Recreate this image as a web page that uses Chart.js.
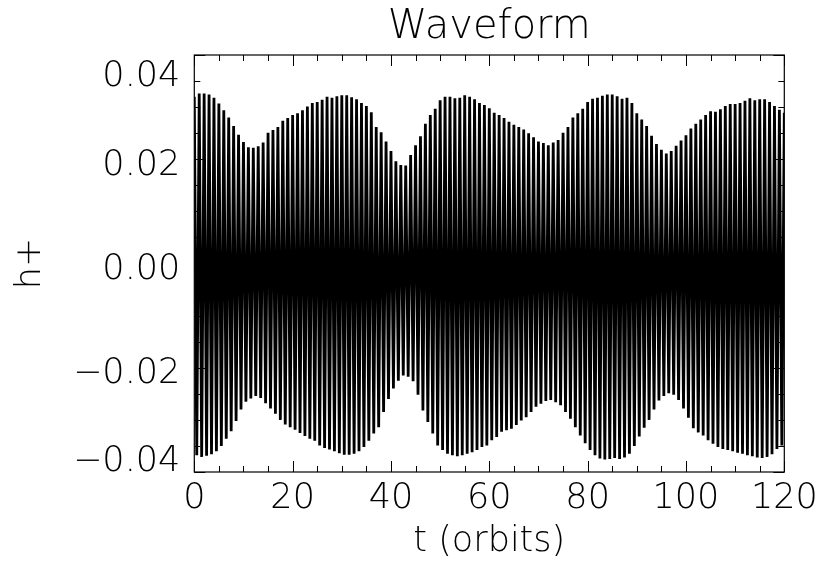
<!DOCTYPE html>
<html>
<head>
<meta charset="utf-8">
<script src="https://cdn.jsdelivr.net/npm/chart.js@4.4.1/dist/chart.umd.min.js"></script>
<style>
  html, body { margin: 0; padding: 0; background: #fff; }
  #wrap { width: 827px; height: 572px; }
</style>
</head>
<body>
<div id="wrap"><canvas id="chart"></canvas></div>
<script>
// samples of the waveform envelope, one per orbit
const orbits = [
  0, 1, 2, 3, 4, 5, 6, 7, 8, 9, 10, 11, 12, 13, 14, 15, 16, 17, 18, 19,
  20, 21, 22, 23, 24, 25, 26, 27, 28, 29, 30, 31, 32, 33, 34, 35, 36, 37, 38, 39,
  40, 41, 42, 43, 44, 45, 46, 47, 48, 49, 50, 51, 52, 53, 54, 55, 56, 57, 58, 59,
  60, 61, 62, 63, 64, 65, 66, 67, 68, 69, 70, 71, 72, 73, 74, 75, 76, 77, 78, 79,
  80, 81, 82, 83, 84, 85, 86, 87, 88, 89, 90, 91, 92, 93, 94, 95, 96, 97, 98, 99,
  100, 101, 102, 103, 104, 105, 106, 107, 108, 109, 110, 111, 112, 113, 114, 115, 116, 117, 118, 119,
  120
];
// crest of each cycle
const crests = [
  0.0320, 0.0326, 0.0326, 0.0324, 0.0318, 0.0307, 0.0294, 0.0280, 0.0264, 0.0247,
  0.0233, 0.0223, 0.0222, 0.0225, 0.0232, 0.0251, 0.0256, 0.0262, 0.0274, 0.0279,
  0.0285, 0.0288, 0.0294, 0.0301, 0.0308, 0.0310, 0.0314, 0.0320, 0.0318, 0.0321,
  0.0323, 0.0323, 0.0319, 0.0315, 0.0308, 0.0302, 0.0290, 0.0262, 0.0252, 0.0234,
  0.0216, 0.0196, 0.0189, 0.0188, 0.0208, 0.0227, 0.0244, 0.0268, 0.0285, 0.0297,
  0.0313, 0.0320, 0.0320, 0.0317, 0.0318, 0.0323, 0.0320, 0.0315, 0.0308, 0.0304,
  0.0298, 0.0289, 0.0285, 0.0279, 0.0272, 0.0266, 0.0262, 0.0257, 0.0250, 0.0242,
  0.0234, 0.0231, 0.0227, 0.0232, 0.0237, 0.0251, 0.0262, 0.0280, 0.0288, 0.0297,
  0.0310, 0.0316, 0.0318, 0.0322, 0.0324, 0.0324, 0.0321, 0.0316, 0.0318, 0.0308,
  0.0288, 0.0276, 0.0264, 0.0245, 0.0229, 0.0218, 0.0211, 0.0216, 0.0226, 0.0236,
  0.0246, 0.0259, 0.0268, 0.0276, 0.0285, 0.0292, 0.0291, 0.0296, 0.0302, 0.0306,
  0.0306, 0.0308, 0.0312, 0.0317, 0.0313, 0.0315, 0.0315, 0.0310, 0.0302, 0.0295,
  0.0289
];
// trough of each cycle
const troughs = [
  -0.0368, -0.0371, -0.0369, -0.0366, -0.0360, -0.0350, -0.0336, -0.0322, -0.0302, -0.0280,
  -0.0265, -0.0259, -0.0254, -0.0258, -0.0268, -0.0278, -0.0288, -0.0300, -0.0309, -0.0314,
  -0.0319, -0.0325, -0.0331, -0.0336, -0.0340, -0.0349, -0.0354, -0.0357, -0.0360, -0.0364,
  -0.0367, -0.0367, -0.0365, -0.0360, -0.0352, -0.0340, -0.0326, -0.0314, -0.0285, -0.0260,
  -0.0240, -0.0225, -0.0215, -0.0217, -0.0226, -0.0252, -0.0282, -0.0304, -0.0326, -0.0349,
  -0.0358, -0.0365, -0.0368, -0.0370, -0.0368, -0.0365, -0.0362, -0.0358, -0.0352, -0.0349,
  -0.0339, -0.0333, -0.0323, -0.0320, -0.0317, -0.0310, -0.0301, -0.0295, -0.0285, -0.0275,
  -0.0269, -0.0264, -0.0262, -0.0266, -0.0272, -0.0285, -0.0298, -0.0314, -0.0330, -0.0345,
  -0.0358, -0.0368, -0.0374, -0.0376, -0.0375, -0.0373, -0.0375, -0.0372, -0.0365, -0.0350,
  -0.0332, -0.0315, -0.0300, -0.0280, -0.0263, -0.0254, -0.0249, -0.0252, -0.0262, -0.0278,
  -0.0296, -0.0316, -0.0324, -0.0330, -0.0339, -0.0346, -0.0352, -0.0356, -0.0358, -0.0360,
  -0.0363, -0.0365, -0.0368, -0.0370, -0.0372, -0.0373, -0.0371, -0.0366, -0.0356, -0.0349,
  -0.0343
];
const xTicks = [0, 20, 40, 60, 80, 100, 120];
const yTicks = [-0.04, -0.02, 0.00, 0.02, 0.04];

// crest at the orbit, trough half an orbit later
const points = [];
orbits.forEach((t, i) => {
  points.push({ x: t, y: crests[i] });
  points.push({ x: t + 0.5, y: troughs[i] });
});

const FONT = '"DejaVu Sans", Roboto, sans-serif';
const W = 200;
const fmtY = v => (v < 0 ? '\u2212' : '') + Math.abs(v).toFixed(2);

// IDL style box with inward ticks on all four sides
const boxPlugin = {
  id: 'box',
  afterDatasetsDraw(chart) {
    const { ctx, chartArea: a, scales: { x, y } } = chart;
    ctx.save();
    ctx.strokeStyle = '#000';
    ctx.lineWidth = 1.2;
    ctx.strokeRect(a.left, a.top, a.right - a.left, a.bottom - a.top);
    ctx.lineWidth = 1;
    ctx.beginPath();
    for (let t = 0; t <= 120; t += 5) {
      const px = Math.round(x.getPixelForValue(t)) + 0.5;
      const len = t % 20 === 0 ? 11 : 6;
      ctx.moveTo(px, a.bottom); ctx.lineTo(px, a.bottom - len);
      ctx.moveTo(px, a.top); ctx.lineTo(px, a.top + len);
    }
    for (let k = -8; k <= 8; k++) {
      const v = k * 0.005;
      const py = Math.round(y.getPixelForValue(v)) + 0.5;
      const len = k % 4 === 0 ? 11 : 6;
      ctx.moveTo(a.left, py); ctx.lineTo(a.left + len, py);
      ctx.moveTo(a.right, py); ctx.lineTo(a.right - len, py);
    }
    ctx.stroke();
    ctx.restore();
  }
};

new Chart(document.getElementById('chart'), {
  type: 'line',
  data: {
    datasets: [{
      data: points,
      borderColor: '#000',
      borderWidth: 2.8,
      borderJoinStyle: 'bevel',
      pointRadius: 0,
      tension: 0
    }]
  },
  options: {
    responsive: true,
    maintainAspectRatio: false,
    animation: false,
    events: [],
    layout: { padding: { left: 0, right: 42.7, top: 0, bottom: 0 } },
    plugins: {
      legend: { display: false },
      tooltip: { enabled: false }
    },
    scales: {
      top: {
        // carries the plot title, centred over the plot box
        type: 'linear',
        position: 'top',
        min: 0,
        max: 120,
        grid: { display: false, drawTicks: false },
        border: { display: false },
        ticks: { display: false },
        title: {
          display: true,
          text: 'Waveform',
          color: '#000',
          font: { family: FONT, size: 40, weight: W, lineHeight: 1.2 },
          padding: { top: 4, bottom: 0 }
        },
        afterFit: s => { s.height = 55; s.paddingLeft = 0; s.paddingRight = 0; }
      },
      x: {
        type: 'linear',
        min: 0,
        max: 120,
        grid: { display: false, drawTicks: false },
        border: { display: false },
        afterBuildTicks: s => { s.ticks = xTicks.map(v => ({ value: v })); },
        ticks: {
          color: '#000',
          padding: 6,
          maxRotation: 0,
          autoSkip: false,
          font: { family: FONT, size: 35, weight: W, lineHeight: 1.2 },
          callback: v => String(v)
        },
        title: {
          display: true,
          text: 't (orbits)',
          color: '#000',
          font: { family: FONT, size: 35, weight: W, lineHeight: 1.2 },
          padding: { top: 0, bottom: 9 }
        },
        afterFit: s => { s.height = 100; s.paddingLeft = 0; s.paddingRight = 0; }
      },
      y: {
        type: 'linear',
        min: -0.04,
        max: 0.04,
        grid: { display: false, drawTicks: false },
        border: { display: false },
        afterBuildTicks: s => { s.ticks = yTicks.map(v => ({ value: v })); },
        ticks: {
          color: '#000',
          padding: 14,
          autoSkip: false,
          font: ctx => {
            const i = ctx.index;
            const lh = i === 0 ? 20 : (i === yTicks.length - 1 ? 44 : 13);
            return { family: FONT, size: 35, weight: W, lineHeight: lh + 'px' };
          },
          callback: (v, i) => i === 0 ? [fmtY(v), ''] : ['', fmtY(v)]
        },
        title: {
          display: true,
          text: 'h+',
          color: '#000',
          font: { family: FONT, size: 35, weight: W, lineHeight: 1.2 },
          padding: { top: 10, bottom: 0 }
        },
        afterFit: s => { s.width = 194.3; s.paddingTop = 0; s.paddingBottom = 0; }
      }
    }
  },
  plugins: [boxPlugin]
});
</script>
</body>
</html>
